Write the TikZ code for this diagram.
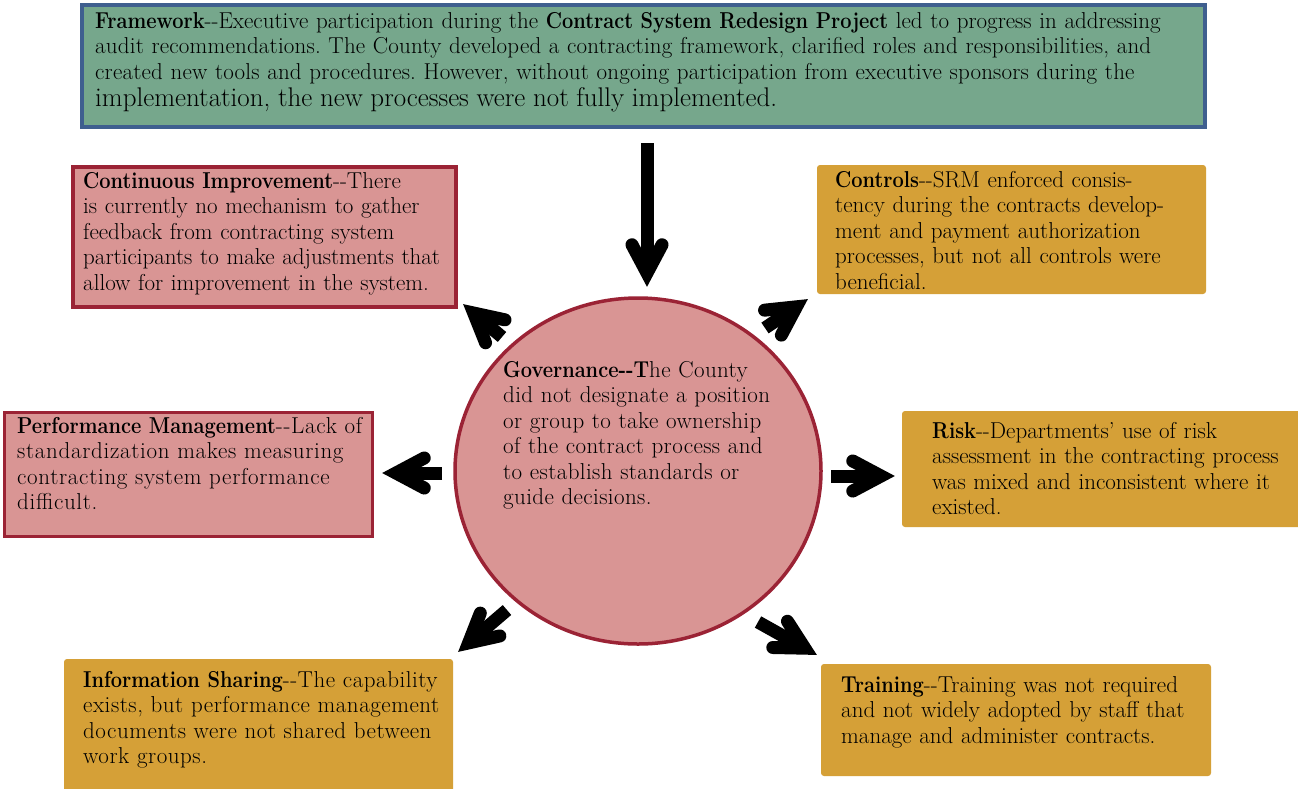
\documentclass[tikz,border=0pt]{standalone}
\usepackage{fontspec}
\setmainfont{Latin Modern Roman}[BoldFeatures={FakeStretch=0.87}]
\usetikzlibrary{calc,shapes.geometric}
\definecolor{fwgreen}{HTML}{76A78C}
\definecolor{fwblue}{HTML}{3F5F8F}
\definecolor{pinkfill}{HTML}{D99594}
\definecolor{redline}{HTML}{9B2335}
\definecolor{goldfill}{HTML}{D5A037}
\newcommand\bodysize{\fontsize{23}{25.5}\selectfont\frenchspacing}
\newcommand\tightbf[1]{{\addfontfeatures{LetterSpace=0}\textbf{#1}}}
\newcommand\fatarrow[2]{%
  \coordinate (#2-v) at ($(#2)!14pt!(#1)$);
  \draw[shaftline] (#1) -- (#2-v);
  \draw[headline] ($(#2-v)!32pt!28:(#1)$) -- (#2-v) -- ($(#2-v)!32pt!-28:(#1)$);
}
\begin{document}
\begin{tikzpicture}[x=1pt,y=-1pt,
  boxbase/.style={inner sep=0pt, outer sep=0pt, anchor=north west},
  fwbox/.style={boxbase, draw=fwblue, line width=4pt, fill=fwgreen},
  redbox/.style={boxbase, draw=redline, line width=3.5pt, fill=pinkfill},
  goldbox/.style={boxbase, fill=goldfill, rounded corners=3pt},
  txt/.style={anchor=base west, align=left, inner sep=0pt, text width=1150pt, font=\bodysize},
  wide/.style={txt, font=\bodysize\addfontfeatures{LetterSpace=#1}},
  shaftline/.style={line width=13pt, line cap=butt, black},
  headline/.style={line width=13pt, line cap=round, line join=miter, black},
  govell/.style={ellipse, draw=redline, line width=3.5pt, fill=pinkfill, inner sep=0pt, minimum width=366pt, minimum height=346pt}
]
\useasboundingbox[fill=white] (0,0) rectangle (1298,788);

% boxes
\node[fwbox, minimum width=1123pt, minimum height=122pt] (fw) at (82,5) {};
\node[redbox, minimum width=383pt, minimum height=140pt] (ci) at (73,167) {};
\node[goldbox, minimum width=389pt, minimum height=129pt] (ctl) at (817,165) {};
\node[redbox, minimum width=368pt, minimum height=124pt] (pm) at (4.5,412.5) {};
\node[goldbox, minimum width=400pt, minimum height=116pt] (risk) at (902,411) {};
\node[goldbox, minimum width=389pt, minimum height=135pt] (info) at (64,659) {};
\node[goldbox, minimum width=390pt, minimum height=112pt] (trn) at (821,664) {};
\node[govell] (gov) at (638,471) {};

% texts
\node[txt] (fwt) at (95,28) {\textbf{Framework}-{}-Executive participation during the \textbf{Contract System Redesign Project} led to progress in addressing\\
{\addfontfeatures{LetterSpace=0.8}audit recommendations. The County developed a contracting framework, clarified roles and responsibilities, and\\
created new tools and procedures. However, without ongoing participation from executive sponsors during the}\\[2pt]
{\fontsize{27}{28}\selectfont implementation, the new processes were not fully implemented.}};

\node[txt] (cit) at (83,188) {\textbf{Continuous Improvement}-{}-There\\
is currently no mechanism to gather\\
feedback from contracting system\\
participants to make adjustments that\\
allow for improvement in the system.};

\node[txt] (ctlt) at (835,187) {\textbf{Controls}-{}-SRM enforced consis-\\
tency during the contracts develop-\\
ment and payment authorization\\
processes, but not all controls were\\
beneficial.};

\node[wide=3] (pmt) at (17,433) {\tightbf{Performance Management}-{}-Lack of\\
standardization makes measuring\\
contracting system performance\\
difficult.};

\node[txt] (riskt) at (932,438) {\textbf{Risk}-{}-Departments’ use of risk\\
assessment in the contracting process\\
was mixed and inconsistent where it\\
existed.};

\node[wide=2.3] (infot) at (83,687) {\tightbf{Information Sharing}-{}-The capability\\
exists, but performance management\\
documents were not shared between\\
work groups.};

\node[txt] (trnt) at (841,692) {\textbf{Training}-{}-Training was not required\\
and not widely adopted by staff that\\
manage and administer contracts.};

\node[wide=1.7] (govt) at (503,377) {\tightbf{Governance-{}-T}he County\\
did not designate a position\\
or group to take ownership\\
of the contract process and\\
to establish standards or\\
guide decisions.};

% arrows
\coordinate (dn-s) at (647,143);  \coordinate (dn-t) at (647,287);
\coordinate (ci-s) at (502,337);  \coordinate (ci-t) at (463,304);
\coordinate (ctl-s) at (765,328); \coordinate (ctl-t) at (808,299);
\coordinate (pm-s) at (442,473);  \coordinate (pm-t) at (382,473);
\coordinate (risk-s) at (831,476);\coordinate (risk-t) at (895,476);
\coordinate (info-s) at (507,610);\coordinate (info-t) at (458,652);
\coordinate (trn-s) at (758,622); \coordinate (trn-t) at (817,655);
\fatarrow{dn-s}{dn-t}
\fatarrow{ci-s}{ci-t}
\fatarrow{ctl-s}{ctl-t}
\fatarrow{pm-s}{pm-t}
\fatarrow{risk-s}{risk-t}
\fatarrow{info-s}{info-t}
\fatarrow{trn-s}{trn-t}
\end{tikzpicture}
\end{document}
